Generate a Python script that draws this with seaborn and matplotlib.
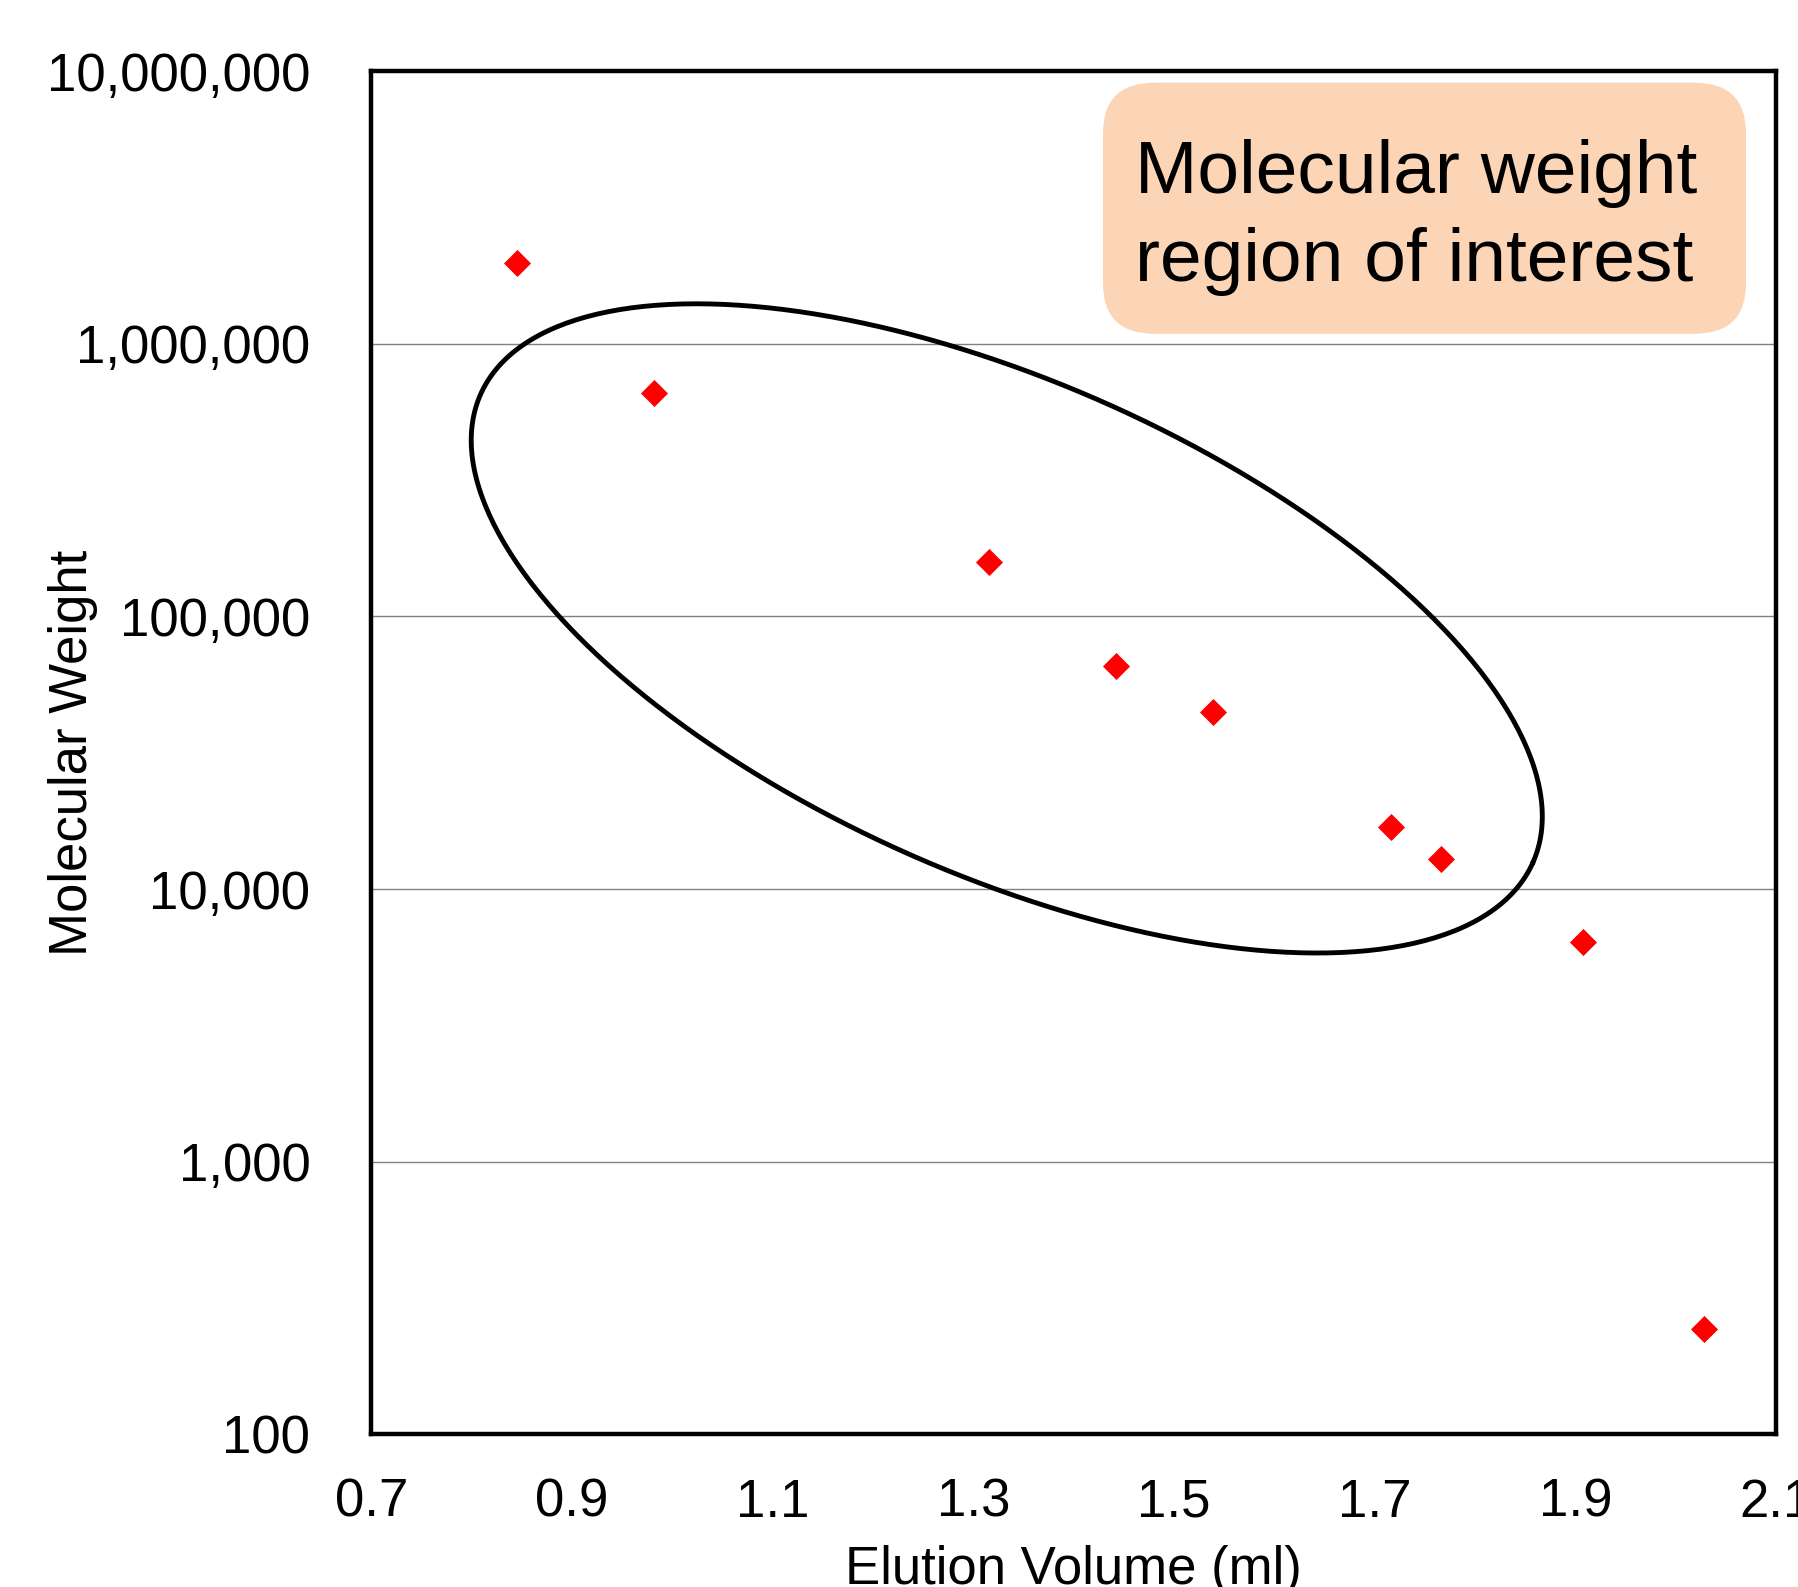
import numpy as np
import pandas as pd
import seaborn as sns
import matplotlib.pyplot as plt
from matplotlib.patches import FancyBboxPatch
from matplotlib.ticker import FuncFormatter, FixedLocator, NullLocator

# data
elution_ml = [0.845, 0.982, 1.316, 1.442, 1.539, 1.716, 1.766, 1.908, 2.028]
mol_weight = [1970000, 660000, 159000, 66000, 44800, 16900, 12900, 6400, 244]
x_ticks = [0.7, 0.9, 1.1, 1.3, 1.5, 1.7, 1.9, 2.1]
y_ticks = [100, 1000, 10000, 100000, 1000000, 10000000]
box_text = "Molecular weight\nregion of interest"

df = pd.DataFrame({'Elution': elution_ml, 'MW': mol_weight})

sns.set_style('white')
plt.rcParams['font.family'] = ['Liberation Sans', 'DejaVu Sans']
plt.rcParams['text.color'] = 'black'
plt.rcParams['axes.labelcolor'] = 'black'
plt.rcParams['xtick.color'] = 'black'
plt.rcParams['ytick.color'] = 'black'

W, H = 1798, 1587
fig = plt.figure(figsize=(W / 100, H / 100), dpi=100)
ax = fig.add_axes([0.2066, 0.0961, 0.7812, 0.8591])

sns.scatterplot(data=df, x='Elution', y='MW', marker='D', s=190,
                color='#ff0000', linewidth=0, ax=ax, zorder=4)

ax.set_yscale('log')
ax.set_xlim(0.7, 2.1)
ax.set_ylim(100, 10000000)
ax.xaxis.set_major_locator(FixedLocator(x_ticks))
ax.yaxis.set_major_locator(FixedLocator(y_ticks))
ax.yaxis.set_minor_locator(NullLocator())
ax.xaxis.set_major_formatter(FuncFormatter(lambda v, p: f"{v:.1f}"))
ax.yaxis.set_major_formatter(FuncFormatter(lambda v, p: f"{int(round(v)):,}"))

ax.grid(True, axis='y', color='#808080', linewidth=1.0)
ax.grid(False, axis='x')
ax.tick_params(axis='x', direction='in', length=10, width=0.8, color='black',
               labelsize=38, pad=31)
ax.tick_params(axis='y', direction='in', length=10, width=0.8, color='black',
               labelsize=38, pad=44)
for sp in ax.spines.values():
    sp.set_visible(True)
    sp.set_color('black')
    sp.set_linewidth(3.2)

ax.set_xlabel('Elution Volume (ml)', fontsize=38)
ax.set_ylabel('Molecular Weight', fontsize=38)
ax.xaxis.set_label_coords(0.5, -0.081)
ax.yaxis.set_label_coords(-0.195, 0.5)

# ellipse marking the region of interest (axes pixels, y downward)
ax_w, ax_h = 0.7812 * W, 0.8591 * H
cx, cy = 635.3, 557.3
a, b, theta = 575.9, 246.0, np.deg2rad(24)
t = np.linspace(0, 2 * np.pi, 400)
px = cx + a * np.cos(t) * np.cos(theta) - b * np.sin(t) * np.sin(theta)
py = cy + a * np.cos(t) * np.sin(theta) + b * np.sin(t) * np.cos(theta)
ax.plot(px / ax_w, 1 - py / ax_h, color='black', linewidth=3.5,
        transform=ax.transAxes, zorder=3)

# rounded annotation box
box = FancyBboxPatch((0.5208, 0.8073), 0.4578, 0.1842,
                     boxstyle='round,pad=0,rounding_size=0.037',
                     transform=ax.transAxes, facecolor='#fbd5b5',
                     edgecolor='none', zorder=5)
ax.add_patch(box)
ax.text(0.5436, 0.8925, box_text, transform=ax.transAxes, fontsize=54,
        ha='left', va='center', color='black', zorder=6, linespacing=1.36)

fig.savefig('out.png', dpi=100)
